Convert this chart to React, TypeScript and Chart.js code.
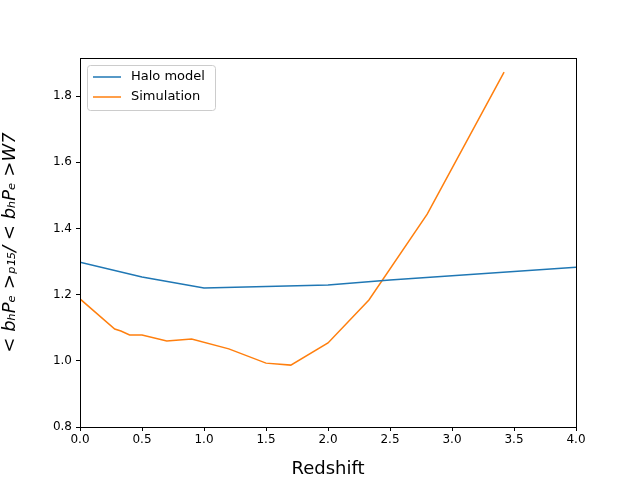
import React, { useEffect, useRef } from "react";
import { Chart, registerables } from "chart.js";
Chart.register(...registerables);

const haloX = [0, 0.5, 1.0, 2.0, 2.5, 4.0];
const haloY = [1.298, 1.253, 1.22, 1.229, 1.244, 1.283];
const simX = [0, 0.28, 0.33, 0.4, 0.45, 0.5, 0.7, 0.9, 1.2, 1.5, 1.7, 2.0, 2.33, 2.8, 3.42];
const simY = [1.187, 1.096, 1.09, 1.078, 1.078, 1.078, 1.06, 1.066, 1.036, 0.993, 0.987, 1.054, 1.184, 1.443, 1.872];
const yTicks = [0.8, 1.0, 1.2, 1.4, 1.6, 1.8];
const seriesNames = ["Halo model", "Simulation"];
const colors = ["#1f77b4", "#ff7f0e"];

const legendPlugin = {
  id: "innerLegend",
  afterDraw(chart: any) {
    const { ctx, chartArea } = chart;
    ctx.save();
    ctx.strokeStyle = "#000"; ctx.lineWidth = 1;
    ctx.strokeRect(chartArea.left + 0.5, chartArea.top + 0.5, chartArea.right - chartArea.left, chartArea.bottom - chartArea.top);
    const x = chartArea.left + 7, y = chartArea.top + 7;
    ctx.fillStyle = "rgba(255,255,255,0.8)";
    ctx.strokeStyle = "#cccccc";
    ctx.beginPath();
    (ctx as any).roundRect(x + 0.5, y + 0.5, 128, 45, 3);
    ctx.fill(); ctx.stroke();
    ctx.font = "13px 'DejaVu Sans'";
    ctx.textBaseline = "middle";
    seriesNames.forEach((n, i) => {
      const yy = y + 12 + i * 20;
      ctx.strokeStyle = colors[i]; ctx.lineWidth = 1.5;
      ctx.beginPath(); ctx.moveTo(x + 6, yy); ctx.lineTo(x + 34, yy); ctx.stroke();
      ctx.fillStyle = "#000"; ctx.fillText(n, x + 44, yy);
    });
    ctx.restore();
  },
};

export default function App() {
  const ref = useRef<HTMLCanvasElement>(null);
  useEffect(() => {
    const gridOpts = { drawOnChartArea: false, drawTicks: true, tickLength: 4, color: "#000" };
    const chart = new Chart(ref.current!, {
      type: "scatter",
      data: {
        datasets: [
          { label: seriesNames[0], data: haloX.map((x, i) => ({ x, y: haloY[i] })), showLine: true, borderColor: colors[0], backgroundColor: colors[0], borderWidth: 1.5, pointRadius: 0 },
          { label: seriesNames[1], data: simX.map((x, i) => ({ x, y: simY[i] })), showLine: true, borderColor: colors[1], backgroundColor: colors[1], borderWidth: 1.5, pointRadius: 0 },
        ],
      },
      options: {
        animation: false,
        responsive: false,
        layout: { padding: { top: 58, right: 64, left: 0, bottom: 0 } },
        plugins: { legend: { display: false }, tooltip: { enabled: false } },
        scales: {
          x: {
            type: "linear", min: 0, max: 4,
            grid: gridOpts,
            border: { color: "#000" },
            ticks: { stepSize: 0.5, color: "#000", font: { family: "DejaVu Sans", size: 12 }, padding: 2, callback: (v: any) => Number(v).toFixed(1) },
            title: { display: true, text: "Redshift", color: "#000", font: { family: "DejaVu Sans", size: 18 }, padding: { top: 4, bottom: 0 } },
            afterFit: (s: any) => { s.height = 53; },
          },
          y: {
            min: 0.8, max: 1.915,
            grid: gridOpts,
            border: { color: "#000" },
            afterBuildTicks: (s: any) => { s.ticks = yTicks.map((value) => ({ value })); },
            ticks: { color: "#000", font: { family: "DejaVu Sans", size: 12 }, padding: 4, callback: (v: any) => Number(v).toFixed(1) },
            title: { display: true, text: "< bₕPₑ >ₚ₁₅/ < bₕPₑ >W7", color: "#000", font: { family: "DejaVu Sans", size: 18, style: "italic" }, padding: { top: 0, bottom: 2 } },
            afterFit: (s: any) => { s.width = 80; },
          },
        },
      },
      plugins: [legendPlugin],
    });
    return () => chart.destroy();
  }, []);
  return (
    <div style={{ position: "fixed", left: 0, top: 0, width: 640, height: 480, background: "#fff" }}>
      <canvas ref={ref} width={640} height={480} />
    </div>
  );
}
